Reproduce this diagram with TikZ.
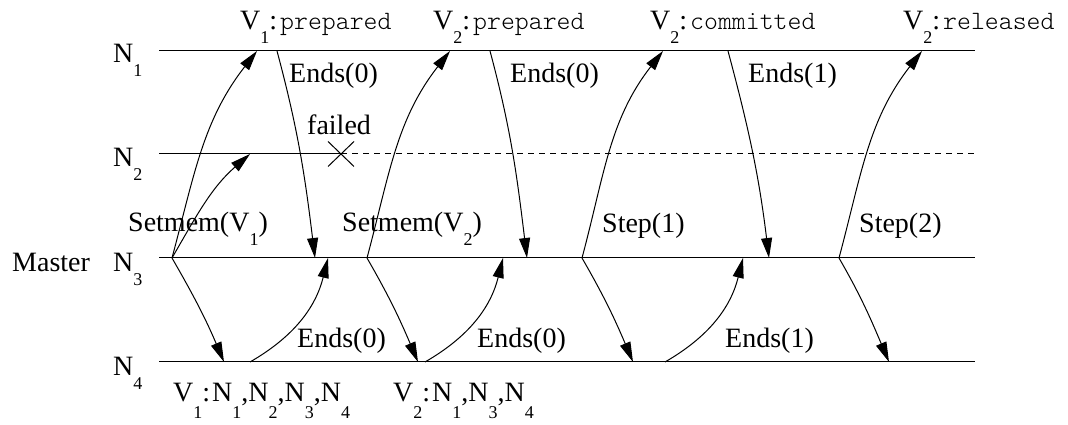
\documentclass[tikz,border=0pt]{standalone}
\usepackage{fontspec}
\setmainfont{Liberation Serif}
\setmonofont{Latin Modern Mono Light}
\usetikzlibrary{arrows.meta,shapes.misc}
\newcommand{\sbx}[1]{\raisebox{-14pt}{\fontsize{18}{18}\selectfont #1}}
\newcommand{\sbl}[1]{\raisebox{-17pt}{\fontsize{18}{18}\selectfont #1}}
\newcommand{\mono}[1]{\hspace{3pt}{\fontsize{26.5}{26}\selectfont\ttfamily #1}}
\begin{document}
\begin{tikzpicture}[x=1pt,y=1pt,
  lbl/.style={anchor=base west, inner sep=0pt, font=\fontsize{28}{30}\selectfont},
  lane/.style={line width=1pt, draw=black},
  msg/.style={line width=1pt, -{Triangle[length=20pt,width=11pt]}},
  upmsg/.style={msg, out=75, in=232},
  twomsg/.style={msg, out=60, in=221},
  downmsg/.style={msg, out=-60, in=113},
  endsdown/.style={msg, out=-75, in=97},
  endsup/.style={msg, out=30, in=256}]
\useasboundingbox (0,0) rectangle (1068,425);
% lane ends
\coordinate (L1a) at (159,374); \coordinate (L1b) at (975,374);
\coordinate (L2a) at (159,271); \coordinate (L2b) at (975,271);
\coordinate (L3a) at (159,167); \coordinate (L3b) at (975,167);
\coordinate (L4a) at (159,63);  \coordinate (L4b) at (975,63);
\node[cross out, draw, line width=1pt, minimum width=25pt, minimum height=24pt, inner sep=0pt] (fail) at (341,271) {};
\draw[lane] (L1a) -- (L1b);
\draw[lane] (L2a) -- (fail.center);
\draw[lane, dashed, dash pattern=on 6pt off 5pt] (fail.center) -- (L2b);
\draw[lane] (L3a) -- (L3b);
\draw[lane] (L4a) -- (L4b);
% labels
\node[lbl] (n1) at (113,362) {N\sbx{1}};
\node[lbl] (n2) at (113,258) {N\sbx{2}};
\node[lbl] (n3) at (113,153) {N\sbx{3}};
\node[lbl] (n4) at (113,49) {N\sbx{4}};
\node[lbl] (master) at (12,153) {Master};
\node[lbl] (s1) at (240,395) {V\sbx{1}:\mono{prepared}};
\node[lbl] (s2) at (433,395) {V\sbx{2}:\mono{prepared}};
\node[lbl] (s3) at (650,395) {V\sbx{2}:\mono{committed}};
\node[lbl] (s4) at (903,395) {V\sbx{2}:\mono{released}};
\node[lbl] (eu1) at (289,342) {Ends(0)};
\node[lbl] (eu2) at (510,342) {Ends(0)};
\node[lbl] (eu3) at (748,342) {Ends(1)};
\node[lbl] (failed) at (307,290) {failed};
\node[lbl] (sm1) at (128,193) {Setmem(V\sbx{1})};
\node[lbl] (sm2) at (342,193) {Setmem(V\sbx{2})};
\node[lbl] (st1) at (602,192) {Step(1)};
\node[lbl] (st2) at (859,192) {Step(2)};
\node[lbl] (el1) at (297,77) {Ends(0)};
\node[lbl] (el2) at (477,77) {Ends(0)};
\node[lbl] (el3) at (725,77) {Ends(1)};
\node[lbl] (mem1) at (173,23) {V\sbl{1}:\hspace{2pt}N\sbl{1},N\sbl{2},N\sbl{3},N\sbl{4}};
\node[lbl] (mem2) at (393,23) {V\sbl{2}:\hspace{2pt}N\sbl{1},N\sbl{3},N\sbl{4}};
% event points
\coordinate (m1) at (172,167); \coordinate (t1) at (257,374); \coordinate (p1) at (250,271);
\coordinate (d1) at (224,63);  \coordinate (a1) at (277,374); \coordinate (b1) at (315,167);
\coordinate (c1) at (250,63);  \coordinate (e1) at (328,167);
\coordinate (m2) at (367,167); \coordinate (t2) at (450,374); \coordinate (d2) at (418,63);
\coordinate (a2) at (490,374); \coordinate (b2) at (527,167);
\coordinate (c2) at (425,63);  \coordinate (e2) at (503,167);
\coordinate (m3) at (582,167); \coordinate (t3) at (663,374); \coordinate (d3) at (633,63);
\coordinate (a3) at (728,374); \coordinate (b3) at (769,167);
\coordinate (c3) at (665,63);  \coordinate (e3) at (743,167);
\coordinate (m4) at (839,167); \coordinate (t4) at (922,374); \coordinate (d4) at (889,63);
% messages
\draw[upmsg] (m1) to (t1);
\draw[twomsg] (m1) to (p1);
\draw[downmsg] (m1) to (d1);
\draw[endsdown] (a1) to (b1);
\draw[endsup] (c1) to (e1);
\draw[upmsg] (m2) to (t2);
\draw[downmsg] (m2) to (d2);
\draw[endsdown] (a2) to (b2);
\draw[endsup] (c2) to (e2);
\draw[upmsg] (m3) to (t3);
\draw[downmsg] (m3) to (d3);
\draw[endsdown] (a3) to (b3);
\draw[endsup] (c3) to (e3);
\draw[upmsg] (m4) to (t4);
\draw[downmsg] (m4) to (d4);
\end{tikzpicture}
\end{document}
